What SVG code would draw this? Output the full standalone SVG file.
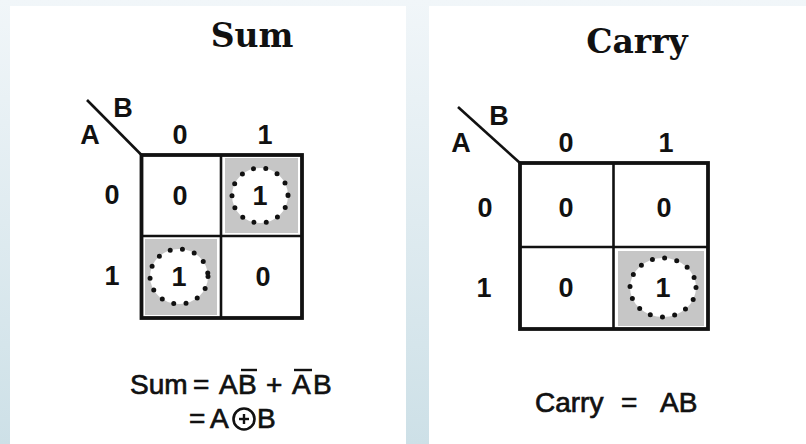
<svg xmlns="http://www.w3.org/2000/svg" width="806" height="444" viewBox="0 0 806 444">
<defs>
<linearGradient id="bg" x1="0" y1="0" x2="0" y2="1">
<stop offset="0" stop-color="#f1f6f9"/>
<stop offset="1" stop-color="#cde0e7"/>
</linearGradient>
</defs>
<style>
.title{font-family:"DejaVu Serif","Liberation Serif",serif;font-weight:bold;fill:#111;text-anchor:middle}
.d{font-family:"Liberation Sans",Arial,sans-serif;font-weight:bold;font-size:27px;fill:#111;text-anchor:middle}
.eq{font-family:"Liberation Sans",Arial,sans-serif;font-size:28px;fill:#111;stroke:#111;stroke-width:0.7}
.grid{fill:none;stroke:#111;stroke-width:3.8}
.inner{stroke:#111;stroke-width:2.6}
.shade{fill:#c6c6c6}
.dot{fill:#fff;stroke:#111;stroke-width:5;stroke-dasharray:0 12.4;stroke-linecap:round}
.ol{stroke:#111;stroke-width:2.4}
</style>
<rect x="0" y="0" width="806" height="444" fill="url(#bg)"/>
<rect x="10" y="6" width="396" height="438" fill="#fff"/>
<rect x="429" y="6" width="377" height="438" fill="#fff"/>

<g id="sum-map">
<text class="title" x="252" y="47" font-size="33">Sum</text>
<g id="sum-grid">
<rect class="shade" x="225" y="158" width="73" height="75"/>
<rect class="shade" x="145" y="239" width="72" height="76"/>
<line class="inner" x1="221" y1="155" x2="221" y2="318"/>
<line class="inner" x1="141.5" y1="236" x2="302" y2="236"/>
<rect class="grid" x="141.5" y="155" width="160.5" height="163"/>
<line class="inner" x1="87" y1="100" x2="141.5" y2="155"/>
</g>
<g id="sum-labels">
<text class="d" x="123" y="117">B</text>
<text class="d" x="90" y="144">A</text>
<text class="d" x="180" y="144">0</text>
<text class="d" x="265" y="144">1</text>
<text class="d" x="112" y="204">0</text>
<text class="d" x="112" y="285">1</text>
</g>
<g id="sum-c00"><text class="d" x="180" y="205">0</text></g>
<g id="sum-c01"><ellipse class="dot" cx="260" cy="195.5" rx="28" ry="27.5"/><text class="d" x="260" y="205">1</text></g>
<g id="sum-c10"><ellipse class="dot" cx="179" cy="276.5" rx="29" ry="27.5"/><text class="d" x="179" y="286">1</text></g>
<g id="sum-c11"><text class="d" x="263" y="286">0</text></g>
<g id="sum-eq">
<text class="eq" y="394"><tspan x="130">Sum</tspan><tspan x="193">=</tspan><tspan x="219">A</tspan><tspan x="238">B</tspan><tspan x="266">+</tspan><tspan x="292">A</tspan><tspan x="313">B</tspan></text>
<line class="ol" x1="241" y1="370" x2="257" y2="370"/>
<line class="ol" x1="294" y1="370" x2="312" y2="370"/>
<text class="eq" y="428"><tspan x="189">=</tspan><tspan x="210">A</tspan></text>
<circle cx="244" cy="419" r="10.5" fill="none" stroke="#111" stroke-width="2.6"/>
<line class="ol" x1="239" y1="419" x2="249" y2="419"/>
<line class="ol" x1="244" y1="414" x2="244" y2="424"/>
<text class="eq" y="428"><tspan x="257">B</tspan></text>
</g>
</g>

<g id="carry-map">
<text class="title" x="637" y="53" font-size="33">Carry</text>
<g id="carry-grid">
<rect class="shade" x="618" y="251" width="86" height="75"/>
<line class="inner" x1="613.5" y1="163" x2="613.5" y2="329"/>
<line class="inner" x1="520" y1="247" x2="708" y2="247"/>
<rect class="grid" x="520" y="163" width="188" height="166"/>
<line class="inner" x1="458" y1="107" x2="520" y2="163"/>
</g>
<g id="carry-labels">
<text class="d" x="499" y="125">B</text>
<text class="d" x="461" y="152">A</text>
<text class="d" x="566" y="152">0</text>
<text class="d" x="666" y="152">1</text>
<text class="d" x="485" y="217">0</text>
<text class="d" x="484" y="297">1</text>
</g>
<g id="carry-c00"><text class="d" x="566" y="217">0</text></g>
<g id="carry-c01"><text class="d" x="664" y="217">0</text></g>
<g id="carry-c10"><text class="d" x="566" y="297">0</text></g>
<g id="carry-c11"><ellipse class="dot" cx="663" cy="287.5" rx="33" ry="29.5"/><text class="d" x="663" y="297">1</text></g>
<g id="carry-eq">
<text class="eq" y="412" font-size="33"><tspan x="535">Carry</tspan><tspan x="621">=</tspan><tspan x="660">AB</tspan></text>
</g>
</g>
</svg>
